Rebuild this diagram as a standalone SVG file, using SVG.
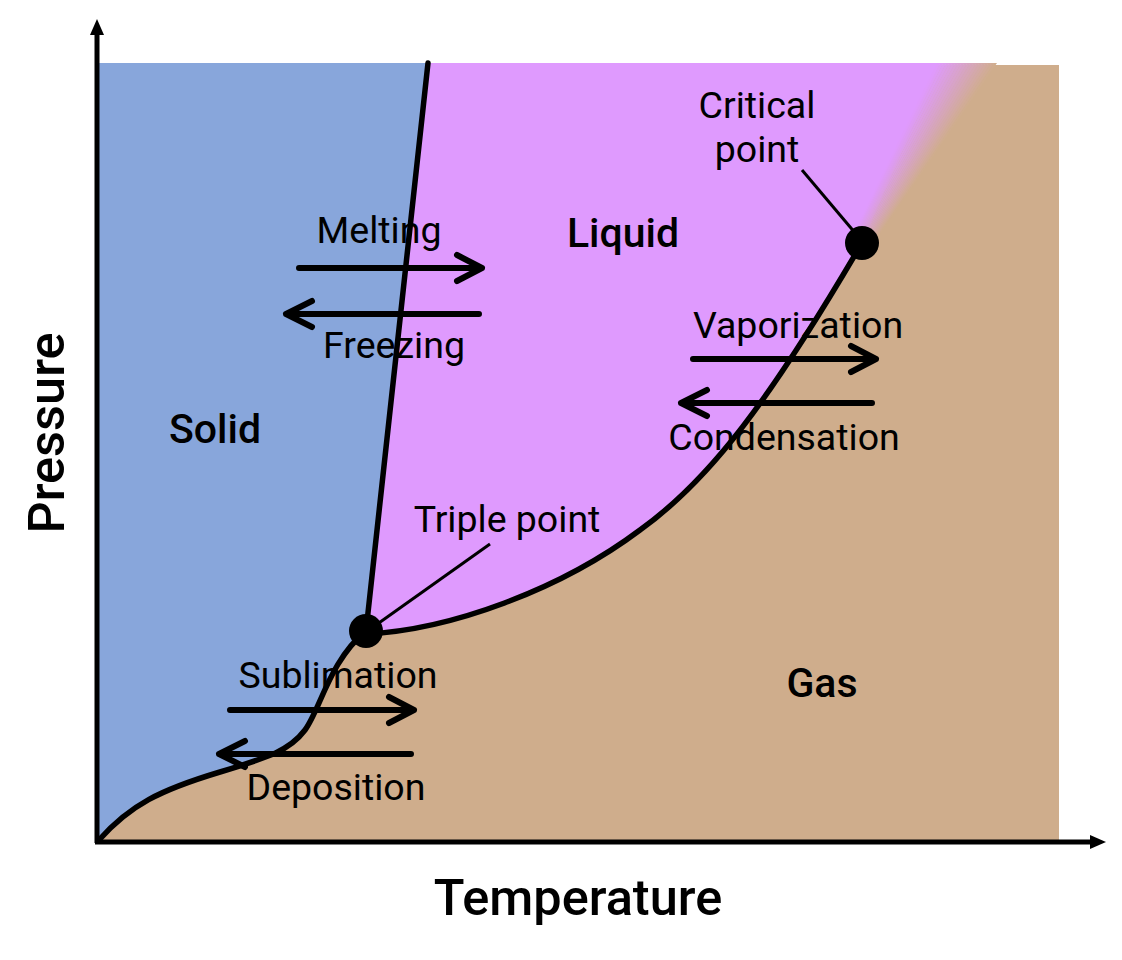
<svg xmlns="http://www.w3.org/2000/svg" width="1122" height="960" viewBox="0 0 1122 960">
<style>
  .lbl { font-family: Roboto, "Liberation Sans", sans-serif; font-size: 37.5px; fill: #000; text-anchor: middle; }
  .phase { font-family: Roboto, "Liberation Sans", sans-serif; font-size: 41px; font-weight: 500; fill: #000; text-anchor: middle; }
  .axis-lbl { font-family: Roboto, "Liberation Sans", sans-serif; font-size: 50.5px; font-weight: 500; fill: #000; text-anchor: middle; }
  .curve { fill: none; stroke: #000; stroke-width: 5.5; stroke-linecap: round; }
  .lead { fill: none; stroke: #000; stroke-width: 3; }
  .arrow { fill: none; stroke: #000; stroke-width: 6; stroke-linecap: round; stroke-linejoin: round; }
  .axis { fill: none; stroke: #000; stroke-width: 5; }
</style>
<defs>
  <marker id="axhead" viewBox="0 0 16 16" refX="2" refY="8" markerWidth="16" markerHeight="16" markerUnits="userSpaceOnUse" orient="auto">
    <path d="M0,1 L16,8 L0,15 Z" fill="#000"/>
  </marker>
</defs>

<g id="regions">
  <rect id="gas-region" x="99" y="65" width="960" height="775" fill="#cfad8c"/>
  <path id="solid-region" fill="#88a6db" d="M99,63 L428,63 L366,631 C330,660 320,710 305,730 C290,750 270,757 220,772 C160,790 130,805 99,840 Z"/>
  <path id="liquid-region" fill="#df9afe" d="M428,63 L940,63 L862,243 C770,400 710,480 640,530 C560,590 450,630 366,634 Z"/>
  <g id="supercritical-blend">
    <polygon points="849.1,243 937,63 940.5,63 850.5,243" fill="rgb(223,154,251)"/>
    <polygon points="850.3,243 940,63 943.5,63 851.8,243" fill="rgb(222,155,245)"/>
    <polygon points="851.6,243 943,63 946.5,63 853.0,243" fill="rgb(221,156,240)"/>
    <polygon points="852.8,243 946,63 949.5,63 854.2,243" fill="rgb(220,157,234)"/>
    <polygon points="854.0,243 949,63 952.5,63 855.5,243" fill="rgb(220,158,228)"/>
    <polygon points="855.3,243 952,63 955.5,63 856.7,243" fill="rgb(219,159,223)"/>
    <polygon points="856.5,243 955,63 958.5,63 857.9,243" fill="rgb(218,160,217)"/>
    <polygon points="857.7,243 958,63 961.5,63 859.1,243" fill="rgb(217,161,211)"/>
    <polygon points="858.9,243 961,63 964.5,63 860.4,243" fill="rgb(217,162,206)"/>
    <polygon points="860.2,243 964,63 967.5,63 861.6,243" fill="rgb(216,163,200)"/>
    <polygon points="861.4,243 967,63 970.5,63 862.8,243" fill="rgb(215,164,194)"/>
    <polygon points="862.6,243 970,63 973.5,63 864.1,243" fill="rgb(214,165,188)"/>
    <polygon points="863.9,243 973,63 976.5,63 865.3,243" fill="rgb(214,166,183)"/>
    <polygon points="865.1,243 976,63 979.5,63 866.5,243" fill="rgb(213,167,177)"/>
    <polygon points="866.3,243 979,63 982.5,63 867.8,243" fill="rgb(212,168,171)"/>
    <polygon points="867.6,243 982,63 985.5,63 869.0,243" fill="rgb(211,169,166)"/>
    <polygon points="868.8,243 985,63 988.5,63 870.2,243" fill="rgb(211,170,160)"/>
    <polygon points="870.0,243 988,63 991.5,63 871.4,243" fill="rgb(210,171,154)"/>
    <polygon points="871.2,243 991,63 994.5,63 872.7,243" fill="rgb(209,172,149)"/>
    <polygon points="872.5,243 994,63 997,63 873.7,243" fill="rgb(208,173,143)"/>
  </g>
</g>

<g id="connectors">
  <line id="melting-curve" class="curve" x1="428" y1="63" x2="366" y2="631" stroke-width="6"/>
  <path id="sublimation-curve" class="curve" d="M99,840 C130,805 160,790 220,772 C270,757 290,750 305,730 C320,710 330,660 366,631"/>
  <path id="vaporization-curve" class="curve" d="M366,634 C450,630 560,590 640,530 C710,480 770,400 862,243"/>
  <line id="triple-lead" class="lead" x1="490" y1="544" x2="376" y2="625"/>
  <line id="critical-lead" class="lead" x1="802" y1="170" x2="856" y2="234"/>
  <line id="y-axis" class="axis" x1="97" y1="843" x2="97" y2="33" marker-end="url(#axhead)"/>
  <line id="x-axis" class="axis" x1="95" y1="842" x2="1092" y2="842" marker-end="url(#axhead)"/>
  <path id="arrow-melting" class="arrow" d="M299,268 L482,268 M457,255 L482,268 L457,281"/>
  <path id="arrow-freezing" class="arrow" d="M479,314 L286,314 M312,301 L286,314 L312,327"/>
  <path id="arrow-vaporization" class="arrow" d="M693,359 L876,359 M851,346 L876,359 L851,372"/>
  <path id="arrow-condensation" class="arrow" d="M872,403 L681,403 M707,390 L681,403 L707,416"/>
  <path id="arrow-sublimation" class="arrow" d="M230,710 L414,710 M389,697 L414,710 L389,723"/>
  <path id="arrow-deposition" class="arrow" d="M411,754 L219,754 M245,741 L219,754 L245,767"/>
</g>

<g id="triple-point">
  <circle cx="366" cy="631" r="17" fill="#000"/>
  <text class="lbl" x="507" y="532">Triple point</text>
</g>
<g id="critical-point">
  <circle cx="862" cy="243" r="17" fill="#000"/>
  <text class="lbl" x="757" y="118">Critical</text>
  <text class="lbl" x="757" y="162">point</text>
</g>

<g id="phase-labels">
  <text id="solid" class="phase" x="215" y="443">Solid</text>
  <text id="liquid" class="phase" x="623" y="247">Liquid</text>
  <text id="gas" class="phase" x="822" y="697">Gas</text>
</g>

<g id="transition-labels">
  <text class="lbl" x="379" y="243">Melting</text>
  <text class="lbl" x="394" y="358">Freezing</text>
  <text class="lbl" x="798" y="338">Vaporization</text>
  <text class="lbl" x="784" y="450">Condensation</text>
  <text class="lbl" x="338" y="688">Sublimation</text>
  <text class="lbl" x="336" y="800">Deposition</text>
</g>

<g id="axis-labels">
  <text class="axis-lbl" x="578" y="915">Temperature</text>
  <text class="axis-lbl" transform="translate(64,433) rotate(-90)" x="0" y="0">Pressure</text>
</g>
</svg>
